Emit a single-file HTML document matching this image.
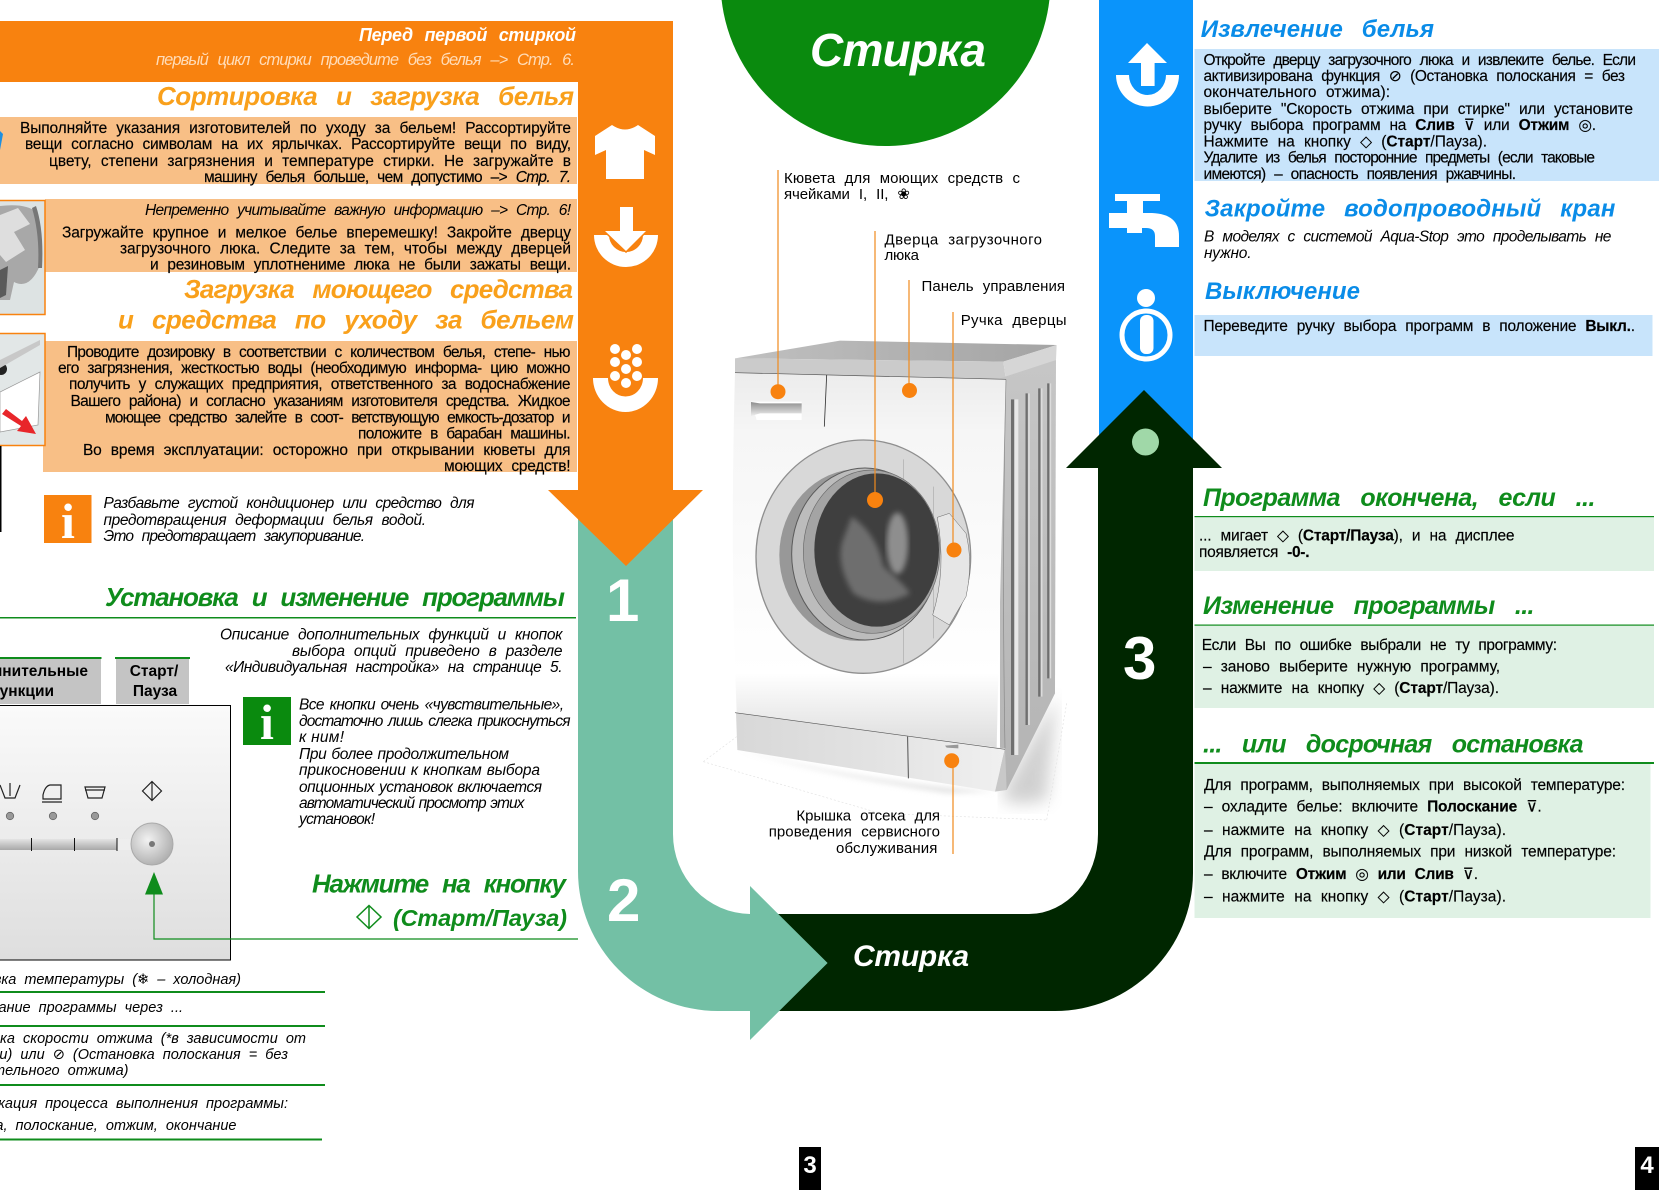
<!DOCTYPE html>
<html lang="ru"><head><meta charset="utf-8"><title>Стирка</title>
<style>
html,body{margin:0;padding:0;background:#fff;width:1659px;height:1190px;overflow:hidden}
svg{display:block}
text{font-family:"Liberation Sans","DejaVu Sans",sans-serif;fill:#000}
.b{font-size:15.5px;word-spacing:5px;stroke:#000;stroke-width:.15px}
.i{font-size:15.5px;font-style:italic;word-spacing:5px}
.c{font-size:14.5px;font-style:italic;word-spacing:4px}
.o{font-size:26px;font-weight:bold;font-style:italic;fill:#f9a01b;word-spacing:12px}
.g{font-size:26px;font-weight:bold;font-style:italic;fill:#0f8c1c;word-spacing:8px}
.g2{font-size:25px;font-weight:bold;font-style:italic;fill:#0f8c1c;word-spacing:14px}
.bl{font-size:24px;font-weight:bold;font-style:italic;fill:#0a8ce8;word-spacing:12px}
.n{font-size:60px;font-weight:bold;fill:#fff}
.s{font-size:15px;word-spacing:5px}
.bd{font-weight:bold}
</style></head><body>
<svg xmlns="http://www.w3.org/2000/svg" width="1659" height="1190" viewBox="0 0 1659 1190">
<defs>
<linearGradient id="pg" x1="0" y1="0" x2="0" y2="1"><stop offset="0" stop-color="#fafafa"/><stop offset="1" stop-color="#dedede"/></linearGradient>
<linearGradient id="sl" x1="0" y1="0" x2="0" y2="1"><stop offset="0" stop-color="#e4e4e4"/><stop offset="1" stop-color="#a8a8a8"/></linearGradient>
<radialGradient id="kn" cx=".4" cy=".4" r=".7"><stop offset="0" stop-color="#f2f2f2"/><stop offset="1" stop-color="#a8a8a8"/></radialGradient>
<linearGradient id="fr" x1="0" y1="0" x2="0" y2="1"><stop offset="0" stop-color="#ececec"/><stop offset=".16" stop-color="#f6f6f6"/><stop offset=".8" stop-color="#ffffff"/><stop offset="1" stop-color="#dcdcdc"/></linearGradient>
<linearGradient id="pl" x1="0" y1="0" x2="1" y2="0"><stop offset="0" stop-color="#d8d8d8"/><stop offset=".5" stop-color="#e2e2e2"/><stop offset="1" stop-color="#f0f0f0"/></linearGradient>
<linearGradient id="sd" x1="0" y1="0" x2="0" y2="1"><stop offset="0" stop-color="#c6c6c6"/><stop offset="1" stop-color="#b4b4b4"/></linearGradient>
<linearGradient id="tp" x1="0" y1="0" x2="1" y2="0"><stop offset="0" stop-color="#c0c0c0"/><stop offset="1" stop-color="#a4a4a4"/></linearGradient>
<linearGradient id="dr" x1="0" y1="0" x2="0" y2="1"><stop offset="0" stop-color="#8e8e8e"/><stop offset="1" stop-color="#eeeeee"/></linearGradient>
<filter id="bl6"><feGaussianBlur stdDeviation="8"/></filter>
<filter id="bl20"><feGaussianBlur stdDeviation="24"/></filter>
</defs>

<!-- main band shapes -->
<rect x="1099" y="0" width="94" height="440" fill="#0a94fb"/>
<path d="M750,914H1029A69,80 0 0 0 1098,834V468H1066L1144,390L1222,468H1193V873A138,138 0 0 1 1055,1011H750Z" fill="#002600"/>
<circle cx="1145.5" cy="442" r="13.5" fill="#a0d8a8"/>
<path d="M578,490H673V834A78,80 0 0 0 750,914V886L827.6,963L750,1040V1011H718A140,140 0 0 1 578,871Z" fill="#73c0a5"/>
<path d="M0,21H673V490H703L626,566L548,490H578V82H0Z" fill="#f8820f"/>
<circle cx="885.5" cy="-19" r="165" fill="#0a8a0e"/>
<text x="810" y="66" textLength="176" font-size="46" font-weight="bold" font-style="italic" style="fill:#fff">Стирка</text>

<!-- orange icons -->
<path d="M612,125Q625,134 638,125L655,136V155L644,150V179H606V150L595,155V136Z" fill="#fff"/>
<path d="M594,235A32,32 0 0 0 658,235H643A17,17 0 0 1 609,235Z" fill="#fff"/>
<path d="M620,207H633V231H646L626,251L605,231H620Z" fill="#fff" stroke="#f8820f" stroke-width="3" paint-order="stroke"/>
<path d="M593,378A32.500,34 0 0 0 658,378H643A17,18 0 0 1 608,378Z" fill="#fff"/>
<g fill="#fff"><circle cx="615" cy="349" r="5"/><circle cx="637" cy="349" r="5"/><circle cx="626" cy="355" r="5"/><circle cx="615" cy="362" r="5"/><circle cx="637" cy="362" r="5"/><circle cx="626" cy="369" r="5"/><circle cx="615" cy="376" r="5"/><circle cx="637" cy="376" r="5"/><circle cx="626" cy="383" r="5"/></g>

<!-- blue icons -->
<path d="M1116,75A31.500,31.500 0 0 0 1179,75H1166A18.500,20 0 0 1 1129,75Z" fill="#fff"/>
<path d="M1147,43L1167,63H1154.600V86H1141V63H1128Z" fill="#fff"/>
<path d="M1115,194H1160V201H1143V213H1152Q1179,214 1179,236V247H1155V236Q1155,228 1146,228H1142V233H1127V228H1109V213H1127V201H1115Z" fill="#fff"/>
<circle cx="1146" cy="298" r="9" fill="#fff"/>
<circle cx="1146" cy="335" r="24" fill="none" stroke="#fff" stroke-width="5"/>
<rect x="1140" y="315" width="13.500" height="39" rx="6" fill="#fff"/>

<!-- numbers -->
<text class="n" x="606" y="621">1</text>
<text class="n" x="607" y="921">2</text>
<text class="n" x="1123" y="679">3</text>
<text x="853" y="966" textLength="116" font-size="30" font-weight="bold" font-style="italic" style="fill:#fff">Стирка</text>

<!-- left header -->
<text x="359" y="41" textLength="217" font-size="18" font-weight="bold" font-style="italic" style="fill:#fff;word-spacing:7px">Перед первой стиркой</text>
<text x="156" y="65" textLength="419" font-size="16.500" font-style="italic" style="fill:#ffdcb8;word-spacing:6px">первый цикл стирки проведите без белья –&gt; Стр. 6.</text>
<text class="o" x="157" y="105" textLength="417">Сортировка и загрузка белья</text>

<!-- peach blocks -->
<rect x="0" y="117" width="577" height="67" fill="#f8bf86"/>
<rect x="45" y="199" width="532" height="73" fill="#f8bf86"/>
<rect x="43" y="341" width="534" height="131" fill="#f8bf86"/>

<path d="M0,131L3,134L0,150Z" fill="#1d8fe0"/>
<text class="b" x="20" y="133" textLength="551">Выполняйте указания изготовителей по уходу за бельем! Рассортируйте</text>
<text class="b" x="25" y="149" textLength="546">вещи согласно символам на их ярлычках. Рассортируйте вещи по виду,</text>
<text class="b" x="49" y="166" textLength="522">цвету, степени загрязнения и температуре стирки. Не загружайте в</text>
<text class="b" x="204" y="182" textLength="367">машину белья больше, чем допустимо –&gt; <tspan font-style="italic">Стр. 7.</tspan></text>

<!-- photos -->
<rect x="-2" y="200.500" width="47" height="114" fill="#dde3e3" stroke="#f8820f" stroke-width="1.500"/>
<path d="M0,206Q26,203 36,212Q42,230 40,265Q30,290 14,282L10,300H0Z" fill="#a8a8a8"/>
<path d="M0,215L18,208L30,224L14,232L25,250L6,262L0,255Z" fill="#dedede"/>
<path d="M0,270L8,266L6,295L0,298Z" fill="#5a5a5a"/>
<path d="M36,206Q44,230 42,268L38,268Q40,235 32,208Z" fill="#777"/>
<rect x="-2" y="333.500" width="47" height="112" fill="#e2e7e7" stroke="#f8820f" stroke-width="1.500"/>
<path d="M0,392L40,372L38,425L0,432Z" fill="#fff" stroke="#999" stroke-width=".7"/>
<circle cx="1" cy="369" r="6" fill="#222"/>
<path d="M0,360L40,340V345L0,368Z" fill="#c8c8c8"/>
<path d="M2,414L6,409L22,421L26,416L36,434L17,431L21,426Z" fill="#e8262a"/>
<rect x="0" y="446" width="1.500" height="86" fill="#000"/>

<text class="i" x="145" y="215" textLength="426">Непременно учитывайте важную информацию –&gt; Стр. 6!</text>
<text class="b" x="62" y="237.500" textLength="509">Загружайте крупное и мелкое белье вперемешку! Закройте дверцу</text>
<text class="b" x="120" y="253.500" textLength="451">загрузочного люка. Следите за тем, чтобы между дверцей</text>
<text class="b" x="150" y="269.500" textLength="421">и резиновым уплотненимe люка не были зажаты вещи.</text>
<text class="o" x="184" y="298" textLength="389">Загрузка моющего средства</text>
<text class="o" x="118" y="328.500" textLength="456">и средства по уходу за бельем</text>

<text class="b" x="67" y="357" textLength="503.500">Проводите дозировку в соответствии с количеством белья, степе- нью</text>
<text class="b" x="58" y="373" textLength="512.500">его загрязнения, жесткостью воды (необходимую информа- цию можно</text>
<text class="b" x="69" y="389" textLength="501.500">получить у служащих предприятия, ответственного за водоснабжение</text>
<text class="b" x="70.500" y="406" textLength="500">Вашего района) и согласно указаниям изготовителя средства. Жидкое</text>
<text class="b" x="105" y="422.500" textLength="465.500">моющее средство залейте в соот- ветствующую емкость-дозатор и</text>
<text class="b" x="358" y="438.500" textLength="212.500">положите в барабан машины.</text>
<text class="b" x="83" y="455" textLength="487.500">Во время эксплуатации: осторожно при открывании кюветы для</text>
<text class="b" x="444" y="471" textLength="126.500">моющих средств!</text>

<rect x="44" y="495" width="47.500" height="48" fill="#f8820f"/>
<text x="68" y="538" text-anchor="middle" font-size="50" font-weight="bold" style="font-family:'Liberation Serif',serif;fill:#fff">i</text>
<text class="i" x="103.500" y="508" textLength="371">Разбавьте густой кондиционер или средство для</text>
<text class="i" x="103.500" y="525" textLength="322.500">предотвращения деформации белья водой.</text>
<text class="i" x="103.500" y="541" textLength="261.500">Это предотвращает закупоривание.</text>

<!-- program section -->
<text class="g" x="105" y="606" textLength="460">Установка и изменение программы</text>
<rect x="0" y="617" width="576" height="1.500" fill="#0f8c1c"/>
<text class="i" x="220" y="639.500" textLength="342.500">Описание дополнительных функций и кнопок</text>
<text class="i" x="292" y="656" textLength="270.500">выбора опций приведено в разделе</text>
<text class="i" x="225" y="672" textLength="337.500">«Индивидуальная настройка» на странице 5.</text>

<rect x="0" y="658" width="101" height="46" fill="#c4c4c4"/>
<rect x="0" y="657" width="101.500" height="2" fill="#0f8c1c"/>
<rect x="116" y="658" width="73" height="46" fill="#c4c4c4"/>
<rect x="115" y="657" width="75" height="2" fill="#0f8c1c"/>
<text x="88" y="676" text-anchor="end" font-size="15.500" font-weight="bold">Дополнительные</text>
<text x="54" y="696" text-anchor="end" font-size="15.500" font-weight="bold">функции</text>
<text x="154" y="676" text-anchor="middle" font-size="15.500" font-weight="bold">Старт/</text>
<text x="155" y="696" text-anchor="middle" font-size="15.500" font-weight="bold">Пауза</text>

<rect x="-2" y="705.500" width="232.500" height="254.500" fill="url(#pg)" stroke="#000" stroke-width="1"/>
<!-- panel icons -->
<g fill="none" stroke="#222" stroke-width="1.200">
<path d="M0,785L5,798H15L20,785M10,783V796"/>
<path d="M43,799H61V785H50Q45,786 43,795ZM42,802H62"/>
<path d="M85,787H105L102,798H88ZM85,790H105"/>
<path d="M152,781.500L161.500,791L152,800.500L142.500,791ZM152,781.500V800.500"/>
</g>
<g fill="#999" stroke="#666" stroke-width=".8"><circle cx="10" cy="816" r="3.700"/><circle cx="53" cy="816" r="3.700"/><circle cx="95" cy="816" r="3.700"/></g>
<rect x="0" y="839" width="117" height="11" fill="url(#sl)"/>
<rect x="117" y="839" width="16" height="11" fill="#eee"/>
<g fill="#111"><rect x="31" y="838" width="1" height="13"/><rect x="74" y="838" width="1" height="13"/><rect x="116.500" y="838" width="1" height="13"/></g>
<circle cx="152" cy="844" r="21" fill="url(#kn)" stroke="#aaa"/>
<circle cx="152" cy="844" r="3" fill="#777"/>
<path d="M154,872L163,894.500H145Z" fill="#0f8c1c"/>
<path d="M154,893V939H578" fill="none" stroke="#0f8c1c" stroke-width="1.200"/>

<rect x="243" y="697" width="48" height="48" fill="#0a8a0e"/>
<text x="267" y="739" text-anchor="middle" font-size="50" font-weight="bold" style="font-family:'Liberation Serif',serif;fill:#fff">i</text>
<text class="i" x="299" y="709.500" textLength="265" style="word-spacing:2px">Все кнопки очень «чувствительные»,</text>
<text class="i" x="299" y="726" textLength="271.500" style="word-spacing:2px">достаточно лишь слегка прикоснуться</text>
<text class="i" x="299" y="742" textLength="45" style="word-spacing:0">к ним!</text>
<text class="i" x="299" y="759" textLength="210" style="word-spacing:1px">При более продолжительном</text>
<text class="i" x="299" y="775" textLength="241" style="word-spacing:1px">прикосновении к кнопкам выбора</text>
<text class="i" x="299" y="792" textLength="243" style="word-spacing:1px">опционных установок включается</text>
<text class="i" x="299" y="808" textLength="225.500" style="word-spacing:1px">автоматический просмотр этих</text>
<text class="i" x="299" y="824" textLength="76">установок!</text>

<text class="g" x="312" y="892.500" textLength="254">Нажмите на кнопку</text>
<g fill="none" stroke="#0f8c1c" stroke-width="1.500"><path d="M369,905.500L381,917L369,928.500L357,917ZM369,905.500V928.500"/></g>
<text class="g" style="font-size:23.500px" x="393" y="926" textLength="174">(Старт/Пауза)</text>

<text class="c" x="241" y="984" text-anchor="end">Установка температуры (❄ – холодная)</text>
<rect x="0" y="991" width="325" height="2" fill="#0f8c1c"/>
<text class="c" x="183" y="1012" text-anchor="end">Окончание программы через ...</text>
<rect x="0" y="1025" width="325" height="2" fill="#0f8c1c"/>
<text class="c" x="306" y="1043" text-anchor="end">Установка скорости отжима (*в зависимости от</text>
<text class="c" x="288" y="1059" text-anchor="end">модели) или ⊘ (Остановка полоскания = без</text>
<text class="c" x="128.500" y="1075" text-anchor="end">окончательного отжима)</text>
<rect x="0" y="1084" width="325" height="2" fill="#0f8c1c"/>
<text class="c" x="288" y="1108" text-anchor="end">Индикация процесса выполнения программы:</text>
<text class="c" x="236.500" y="1130" text-anchor="end">стирка, полоскание, отжим, окончание</text>
<rect x="0" y="1138.500" width="322" height="2" fill="#0f8c1c"/>

<!-- washing machine -->
<g transform="translate(680,320) scale(.33333)">
<path d="M970,1410L1130,1130L1100,1440Q1020,1460 970,1440Z" fill="#999" opacity=".45" filter="url(#bl20)"/>
<path d="M70,1325L170,1250M1160,1150L1100,1500M70,1325L600,1480L1100,1500" fill="none" stroke="#e2e2e2" stroke-width="2" stroke-dasharray="6 6"/>
<path d="M172,1285Q500,1380 945,1415L800,1420Q400,1360 172,1285Z" fill="#ccc" opacity=".5" filter="url(#bl6)"/>
<path d="M165,115L480,62L1130,75L970,125Z" fill="url(#tp)"/>
<path d="M165,115L970,125L978,180L165,158Z" fill="#cbcbcb"/>
<path d="M970,125L1130,75L1128,120L978,180Z" fill="#d6d6d6"/>
<path d="M960,175L1128,120L1125,1120L980,1410L960,1400Z" fill="url(#sd)"/>
<g fill="none">
<path d="M998,238V1305" stroke="#6f6f6f" stroke-width="10"/>
<path d="M1009,238V1305" stroke="#e8e8e8" stroke-width="12"/>
<path d="M1040,220V1215M1078,205V1130M1105,190V1075" stroke="#6f6f6f" stroke-width="7"/>
<path d="M1047,220V1215M1085,205V1130M1111,190V1075" stroke="#dcdcdc" stroke-width="5"/>
</g>
<path d="M165,158L978,178Q965,600 950,1285L170,1178Q150,700 165,158Z" fill="url(#fr)"/>
<path d="M168,1178L975,1285L945,1415L172,1290Z" fill="url(#pl)"/>
<path d="M975,1285L980,1410L945,1415Z" fill="#c8c8c8"/>
<path d="M165,1178L975,1288" stroke="#555" stroke-width="2"/>
<path d="M165,158L978,178" stroke="#555" stroke-width="2"/>
<path d="M978,178Q965,700 975,1285" stroke="#888" stroke-width="2" fill="none"/>
<path d="M440,165L433,320M683,1250L685,1375" stroke="#333" stroke-width="2.500"/>
<path d="M213,245H365V300H230Z" fill="#fff"/>
<path d="M240,250H365V280H240L213,288V246Z" fill="url(#dr)"/>
<path d="M795,1277L835,1274V1285L800,1283Z" fill="#999"/>
<ellipse cx="550" cy="710" rx="322" ry="350" fill="#d8d8d8" stroke="#8f8f8f" stroke-width="4"/>
<path d="M670,418V1030M760,500V955" stroke="#aaa" stroke-width="2"/>
<ellipse cx="536" cy="705" rx="238" ry="258" fill="#989898"/>
<ellipse cx="555" cy="702" rx="220" ry="258" fill="#bcbcbc" stroke="#5a5a5a" stroke-width="3"/>
<ellipse cx="575" cy="695" rx="205" ry="245" fill="#a4a4a4" stroke="#6a6a6a" stroke-width="2"/>
<ellipse cx="590" cy="690" rx="187" ry="230" fill="#3f3f3f"/>
<path d="M515,590Q590,640 610,740Q670,790 690,820Q600,870 520,820Q470,740 485,670Z" fill="#6e6e6e" filter="url(#bl6)"/>
<ellipse cx="652" cy="670" rx="32" ry="92" fill="#8e8e8e" filter="url(#bl6)"/>
<path d="M772,592L808,580L858,640Q880,730 858,830L808,915L758,885Q800,750 772,592Z" fill="#e6e6e6" stroke="#666" stroke-width="1.500"/>
</g>

<!-- callouts -->
<g stroke="#f08a1d" stroke-width="1.200" fill="none">
<path d="M778,170V391M875,231V500M909,280V390M953,312V550M953,760V854"/>
</g>
<g fill="#f8820f">
<circle cx="778" cy="391.700" r="7.500"/><circle cx="875" cy="500" r="8"/><circle cx="909.500" cy="390.500" r="7.500"/><circle cx="954" cy="550" r="7.500"/><circle cx="951.700" cy="760.700" r="7.500"/>
</g>
<text class="s" x="784" y="183" textLength="236">Кювета для моющих средств с</text>
<text class="s" x="784" y="199" textLength="126">ячейками I, II, ❀</text>
<text class="s" x="884.500" y="244.500" textLength="157.500">Дверца загрузочного</text>
<text class="s" x="884.500" y="260" textLength="34.500">люка</text>
<text class="s" x="921.500" y="291" textLength="143.500">Панель управления</text>
<text class="s" x="960.700" y="325" textLength="105.800">Ручка дверцы</text>
<text class="s" x="796.400" y="820.700" textLength="143.600">Крышка отсека для</text>
<text class="s" x="768.700" y="836.700" textLength="171.300">проведения сервисного</text>
<text class="s" x="836" y="853" textLength="101.400">обслуживания</text>

<!-- right column -->
<rect x="1194.500" y="49" width="464.500" height="132" fill="#c8e4fb"/>
<rect x="1194.500" y="315" width="458" height="41" fill="#c8e4fb"/>
<text class="bl" x="1200.700" y="37" textLength="233.300">Извлечение белья</text>
<text class="b" x="1203.500" y="65" textLength="432.500">Откройте дверцу загрузочного люка и извлеките белье. Если</text>
<text class="b" x="1203.500" y="81" textLength="421.500">активизирована функция ⊘ (Остановка полоскания = без</text>
<text class="b" x="1203.500" y="97" textLength="186.500">окончательного отжима):</text>
<text class="b" x="1203.500" y="114" textLength="429.500">выберите "Скорость отжима при стирке" или установите</text>
<text class="b" x="1203.500" y="130" textLength="392.500">ручку выбора программ на <tspan class="bd">Слив</tspan> ⊽ или <tspan class="bd">Отжим</tspan> ◎.</text>
<text class="b" x="1203.500" y="146.700" textLength="283.500">Нажмите на кнопку ◇ (<tspan class="bd">Старт</tspan>/Пауза).</text>
<text class="b" x="1203.500" y="162.700" textLength="391.500">Удалите из белья посторонние предметы (если таковые</text>
<text class="b" x="1203.500" y="179" textLength="312.500">имеются) – опасность появления ржавчины.</text>
<text class="bl" x="1204.600" y="216.700" textLength="410.800">Закройте водопроводный кран</text>
<text class="i" x="1204" y="241.700" textLength="407.400">В моделях с системой Aqua-Stop это проделывать не</text>
<text class="i" x="1204" y="258" textLength="47.500">нужно.</text>
<text class="bl" x="1205" y="299" textLength="155">Выключение</text>
<text class="b" x="1203.500" y="331" textLength="431.500">Переведите ручку выбора программ в положение <tspan class="bd">Выкл.</tspan>.</text>

<rect x="1194.500" y="517" width="459.500" height="54" fill="#dff1e4"/>
<rect x="1194.500" y="625" width="459.500" height="83" fill="#dff1e4"/>
<rect x="1194.500" y="764" width="456" height="154" fill="#dff1e4"/>
<rect x="1194.500" y="516" width="459.500" height="1.200" fill="#0f8c1c"/>
<rect x="1194.500" y="624.500" width="459.500" height="1.200" fill="#0f8c1c"/>
<rect x="1194.500" y="762" width="459.500" height="2" fill="#0f8c1c"/>

<text class="g2" x="1203" y="506" textLength="392.400">Программа окончена, если ...</text>
<text class="b" x="1199" y="540.700" textLength="315.500">... мигает ◇ (<tspan class="bd">Старт/Пауза</tspan>), и на дисплее</text>
<text class="b" x="1199" y="557" textLength="110.500">появляется <tspan class="bd">-0-.</tspan></text>
<text class="g2" x="1203" y="614" textLength="331.500">Изменение программы ...</text>
<text class="b" x="1201.800" y="650" textLength="355.200">Если Вы по ошибке выбрали не ту программу:</text>
<text class="b" x="1203" y="671.700" textLength="297">– заново выберите нужную программу,</text>
<text class="b" x="1203" y="693" textLength="296">– нажмите на кнопку ◇ (<tspan class="bd">Старт</tspan>/Пауза).</text>
<text class="g2" x="1203" y="752.700" textLength="380.500">... или досрочная остановка</text>
<text class="b" x="1204" y="790" textLength="421">Для программ, выполняемых при высокой температуре:</text>
<text class="b" x="1204" y="811.700" textLength="337.700">– охладите белье: включите <tspan class="bd">Полоскание</tspan> ⊽.</text>
<text class="b" x="1204" y="835" textLength="302">– нажмите на кнопку ◇ (<tspan class="bd">Старт</tspan>/Пауза).</text>
<text class="b" x="1204" y="856.700" textLength="412">Для программ, выполняемых при низкой температуре:</text>
<text class="b" x="1204" y="879" textLength="274">– включите <tspan class="bd">Отжим</tspan> ◎ <tspan class="bd">или Слив</tspan> ⊽.</text>
<text class="b" x="1204" y="901.700" textLength="302">– нажмите на кнопку ◇ (<tspan class="bd">Старт</tspan>/Пауза).</text>

<!-- page numbers -->
<rect x="799" y="1147" width="22" height="43" fill="#000"/>
<text x="810" y="1173" text-anchor="middle" font-size="24" font-weight="bold" style="fill:#fff">3</text>
<rect x="1635" y="1147" width="24" height="43" fill="#000"/>
<text x="1647" y="1173" text-anchor="middle" font-size="24" font-weight="bold" style="fill:#fff">4</text>
</svg>
</body></html>
